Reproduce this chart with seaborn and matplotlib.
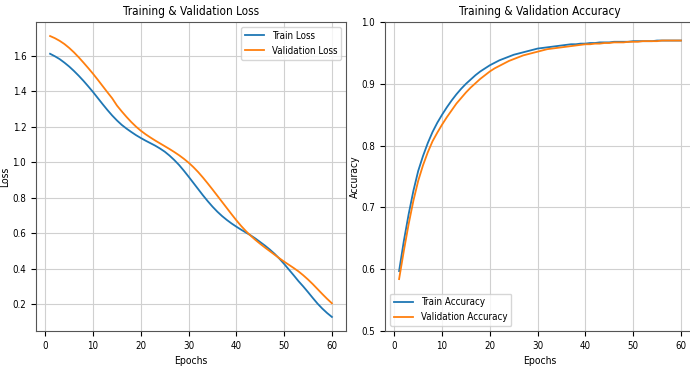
import numpy as np
import pandas as pd
import seaborn as sns
import matplotlib
matplotlib.use("Agg")
import matplotlib.pyplot as plt

epochs = list(range(1, 61))

train_loss = [
    1.612, 1.598, 1.582, 1.562, 1.540, 1.515, 1.488, 1.459, 1.428, 1.396,
    1.362, 1.328, 1.295, 1.264, 1.236, 1.211, 1.190, 1.171, 1.153, 1.137,
    1.122, 1.108, 1.094, 1.078, 1.060, 1.038, 1.013, 0.985, 0.953, 0.919,
    0.884, 0.849, 0.814, 0.781, 0.750, 0.722, 0.697, 0.675, 0.655, 0.637,
    0.620, 0.604, 0.588, 0.570, 0.550, 0.530, 0.508, 0.484, 0.457, 0.427,
    0.395, 0.363, 0.330, 0.300, 0.268, 0.235, 0.203, 0.175, 0.150, 0.128,
]
val_loss = [
    1.712, 1.700, 1.685, 1.667, 1.645, 1.620, 1.592, 1.562, 1.531, 1.499,
    1.465, 1.430, 1.395, 1.361, 1.320, 1.287, 1.256, 1.227, 1.201, 1.178,
    1.158, 1.140, 1.123, 1.107, 1.091, 1.075, 1.058, 1.040, 1.020, 0.998,
    0.973, 0.945, 0.914, 0.881, 0.847, 0.812, 0.777, 0.742, 0.707, 0.673,
    0.641, 0.612, 0.586, 0.562, 0.540, 0.519, 0.499, 0.479, 0.459, 0.440,
    0.422, 0.404, 0.385, 0.363, 0.339, 0.313, 0.285, 0.257, 0.230, 0.205,
]
train_acc = [
    0.597, 0.646, 0.689, 0.727, 0.759, 0.783, 0.804, 0.822, 0.837, 0.850,
    0.862, 0.873, 0.883, 0.892, 0.900, 0.907, 0.914, 0.920, 0.925, 0.930,
    0.934, 0.938, 0.941, 0.944, 0.947, 0.949, 0.951, 0.953, 0.955, 0.957,
    0.958, 0.959, 0.960, 0.961, 0.962, 0.963, 0.964, 0.964, 0.965, 0.965,
    0.966, 0.966, 0.967, 0.967, 0.967, 0.968, 0.968, 0.968, 0.968, 0.969,
    0.969, 0.969, 0.969, 0.969, 0.970, 0.970, 0.970, 0.970, 0.970, 0.970,
]
val_acc = [
    0.584, 0.630, 0.673, 0.711, 0.743, 0.768, 0.789, 0.807, 0.821, 0.834,
    0.846, 0.857, 0.868, 0.877, 0.886, 0.894, 0.901, 0.908, 0.914, 0.920,
    0.925, 0.929, 0.933, 0.937, 0.940, 0.943, 0.946, 0.948, 0.950, 0.952,
    0.954, 0.956, 0.957, 0.958, 0.959, 0.960, 0.961, 0.962, 0.963, 0.964,
    0.964, 0.965, 0.965, 0.966, 0.966, 0.967, 0.967, 0.967, 0.968, 0.968,
    0.968, 0.969, 0.969, 0.969, 0.969, 0.970, 0.970, 0.970, 0.970, 0.970,
]

df = pd.DataFrame({
    "epoch": epochs,
    "train_loss": train_loss,
    "val_loss": val_loss,
    "train_acc": train_acc,
    "val_acc": val_acc,
})

plt.rcParams["font.family"] = ["DejaVu Sans"]
plt.rcParams["font.stretch"] = "condensed"
plt.rcParams["font.size"] = 7
plt.rcParams["axes.labelsize"] = 7.5

fig = plt.figure(figsize=(6.9, 3.68), dpi=100)
ax1 = fig.add_axes([36 / 690, 37 / 368, 310 / 690, 309 / 368])
ax2 = fig.add_axes([385 / 690, 37 / 368, 310 / 690, 309 / 368])

blue, orange = "#1f77b4", "#ff7f0e"

sns.lineplot(data=df, x="epoch", y="train_loss", ax=ax1, color=blue,
             label="Train Loss", linewidth=1.3)
sns.lineplot(data=df, x="epoch", y="val_loss", ax=ax1, color=orange,
             label="Validation Loss", linewidth=1.3)
ax1.set_title("Training & Validation Loss", fontsize=8.5, pad=5)
ax1.set_xlabel("Epochs")
ax1.set_ylabel("Loss")
ax1.yaxis.set_label_coords(-0.085, 0.5)
ax1.legend(loc="upper right", fontsize=7)

sns.lineplot(data=df, x="epoch", y="train_acc", ax=ax2, color=blue,
             label="Train Accuracy", linewidth=1.3)
sns.lineplot(data=df, x="epoch", y="val_acc", ax=ax2, color=orange,
             label="Validation Accuracy", linewidth=1.3)
ax2.set_ylim(0.5, 1.0)
ax2.set_title("Training & Validation Accuracy", fontsize=8.5, pad=5)
ax2.set_xlabel("Epochs")
ax2.set_ylabel("Accuracy")
ax2.yaxis.set_label_coords(-0.08, 0.5)
ax2.legend(loc="lower left", fontsize=7)

for ax in (ax1, ax2):
    ax.set_xticks([0, 10, 20, 30, 40, 50, 60])
    ax.grid(True, color="#d0d0d0", linewidth=0.8)
    for s in ax.spines.values():
        s.set_color("#555555")

fig.savefig("out.png", dpi=100)
